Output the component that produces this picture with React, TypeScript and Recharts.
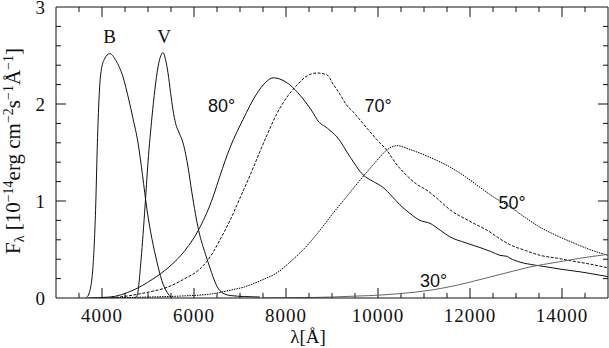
import React from "react"
import {
  Line,
  LineChart,
  ReferenceDot,
  ReferenceLine,
  XAxis,
  YAxis,
} from "recharts"

// wavelengths (Angstrom) and fluxes (1e-14 erg cm^-2 s^-1 A^-1)
const bWave = [3650, 3720, 3800, 3860, 3900, 3930, 3970, 4050, 4170, 4300, 4456, 4580, 4674, 4783, 4880, 4978, 5090, 5196, 5300, 5413, 5520]
const bFlux = [0, 0.05, 0.3, 0.9, 1.6, 2.0, 2.3, 2.46, 2.52, 2.45, 2.28, 2.05, 1.85, 1.6, 1.27, 0.91, 0.6, 0.37, 0.18, 0.06, 0]

const vWave = [4700, 4760, 4850, 4935, 5000, 5087, 5150, 5217, 5280, 5326, 5380, 5435, 5490, 5543, 5600, 5680, 5761, 5820, 5870, 5950, 6030, 6100, 6250, 6348, 6413, 6500, 6630, 6800, 7100, 7430]
const vFlux = [0, 0.02, 0.4, 0.94, 1.4, 1.87, 2.15, 2.38, 2.5, 2.53, 2.46, 2.32, 2.12, 1.94, 1.8, 1.7, 1.6, 1.48, 1.35, 1.1, 0.87, 0.7, 0.45, 0.31, 0.22, 0.12, 0.05, 0.025, 0.015, 0.01]

const wave80 = [3700, 4174, 4674, 5087, 5457, 5804, 6130, 6413, 6565, 6783, 7065, 7370, 7550, 7720, 7850, 8020, 8250, 8457, 8600, 8674, 8900, 9109, 9400, 9674, 9900, 10109, 10300, 10478, 10700, 10913, 11130, 11350, 11565, 11900, 12217, 12450, 12652, 12800, 12870, 13087, 13400, 13674, 14000, 14391, 15000]
const flux80 = [0, 0.01, 0.08, 0.19, 0.32, 0.49, 0.73, 1.04, 1.26, 1.55, 1.84, 2.11, 2.22, 2.27, 2.26, 2.22, 2.12, 2.0, 1.9, 1.84, 1.75, 1.66, 1.45, 1.27, 1.2, 1.14, 1.05, 0.96, 0.87, 0.8, 0.77, 0.7, 0.63, 0.57, 0.52, 0.48, 0.44, 0.43, 0.41, 0.37, 0.34, 0.32, 0.295, 0.27, 0.22]

const wave70 = [4200, 4674, 5000, 5413, 5800, 6130, 6283, 6413, 6565, 6783, 7000, 7250, 7478, 7587, 7800, 8020, 8250, 8457, 8674, 8891, 9030, 9174, 9300, 9457, 9761, 10000, 10196, 10400, 10630, 10850, 11065, 11300, 11565, 12000, 12435, 12650, 12870, 13200, 13522, 13900, 14239, 14600, 15000]
const flux70 = [0, 0.03, 0.06, 0.11, 0.2, 0.3, 0.38, 0.47, 0.6, 0.8, 1.03, 1.3, 1.56, 1.68, 1.9, 2.07, 2.2, 2.29, 2.32, 2.3, 2.2, 2.1, 2.0, 1.92, 1.75, 1.62, 1.52, 1.38, 1.26, 1.17, 1.11, 1.02, 0.91, 0.79, 0.68, 0.61, 0.55, 0.49, 0.44, 0.41, 0.38, 0.35, 0.31]

const wave50 = [4000, 5000, 5700, 6348, 6783, 7065, 7500, 7804, 8087, 8457, 8740, 9000, 9326, 9761, 10000, 10200, 10413, 10700, 11130, 11565, 11900, 12217, 12550, 12870, 13200, 13522, 13900, 14239, 14600, 15000]
const flux50 = [0, 0.01, 0.02, 0.04, 0.08, 0.11, 0.19, 0.26, 0.37, 0.54, 0.7, 0.86, 1.05, 1.3, 1.43, 1.53, 1.57, 1.53, 1.45, 1.35, 1.25, 1.14, 1.03, 0.94, 0.83, 0.73, 0.64, 0.57, 0.5, 0.44]

const wave30 = [7500, 8200, 9000, 9543, 10043, 10478, 11130, 11700, 12217, 12800, 13304, 13900, 14391, 15000]
const flux30 = [0, 0.003, 0.01, 0.02, 0.03, 0.045, 0.08, 0.13, 0.19, 0.26, 0.32, 0.37, 0.41, 0.45]

const xMajor = [4000, 6000, 8000, 10000, 12000, 14000]
const xMinor = [3500, 4000, 4500, 5000, 5500, 6000, 6500, 7000, 7500, 8000, 8500, 9000, 9500, 10000, 10500, 11000, 11500, 12000, 12500, 13000, 13500, 14000, 14500]
const yMajor = [0, 1, 2, 3]
const yMinor = [0.2, 0.4, 0.6, 0.8, 1, 1.2, 1.4, 1.6, 1.8, 2, 2.2, 2.4, 2.6, 2.8]

const pts = (w: number[], f: number[]) => w.map((x, i) => ({ x, y: f[i] }))

const X0 = 3000
const X1 = 15000
const Y0 = 0
const Y1 = 3

const serif = "Liberation Serif"
const sans = "Liberation Sans"
const ink = "#111"

function YLabel() {
  return (
    <text
      transform="translate(20,151) rotate(-90)"
      textAnchor="middle"
      fontFamily={serif}
      fontSize={21}
      fill={ink}
    >
      F<tspan dy={4} fontSize={14}>λ</tspan>
      <tspan dy={-4}> [10</tspan>
      <tspan dy={-7} fontSize={14}>−14</tspan>
      <tspan dy={7}>erg cm</tspan>
      <tspan dy={-7} fontSize={14}>−2</tspan>
      <tspan dy={7}>s</tspan>
      <tspan dy={-7} fontSize={14}>−1</tspan>
      <tspan dy={7}>Å</tspan>
      <tspan dy={-7} fontSize={14}>−1</tspan>
      <tspan dy={7}>]</tspan>
    </text>
  )
}

function XLabel() {
  return (
    <text x={308} y={343} textAnchor="middle" fontFamily={serif} fontSize={19} fill={ink}>
      λ[Å]
    </text>
  )
}

const tag = (value: string, font: string, size: number) => ({
  value,
  position: "center" as const,
  fill: ink,
  fontFamily: font,
  fontSize: size,
})

// inward tick lengths, in data units (about 10px major, 5px minor)
const xTickLen = (v: number) => (xMajor.includes(v) ? 0.103 : 0.052)
const yTickLen = (v: number) => (yMajor.includes(v) ? 217 : 109)

export default function App() {
  const frame = { stroke: ink, strokeWidth: 1 }
  const seg = { xAxisId: "x", yAxisId: "y", stroke: ink, strokeWidth: 1 }
  return (
    <div style={{ position: "absolute", left: 0, top: 0, background: "#fff" }}>
      <LineChart width={609} height={348} margin={{ top: 7, right: 1, bottom: 0, left: 0 }}>
        <XAxis
          xAxisId="x"
          dataKey="x"
          type="number"
          domain={[X0, X1]}
          allowDataOverflow
          ticks={xMajor}
          interval={0}
          height={50}
          tickLine={false}
          tickSize={0}
          tickMargin={11}
          axisLine={frame}
          tick={{ fill: ink, fontSize: 19, fontFamily: serif, letterSpacing: 1 }}
          label={<XLabel />}
        />
        <YAxis
          yAxisId="y"
          type="number"
          domain={[Y0, Y1]}
          allowDataOverflow
          ticks={yMajor}
          interval={0}
          width={56}
          tickLine={false}
          tickSize={0}
          tickMargin={11}
          axisLine={frame}
          tick={{ fill: ink, fontSize: 19, fontFamily: serif }}
          label={<YLabel />}
        />

        {/* top and right sides of the box */}
        <ReferenceLine xAxisId="x" yAxisId="y" y={Y1} stroke={ink} strokeWidth={1} />
        <ReferenceLine xAxisId="x" yAxisId="y" x={X1} stroke={ink} strokeWidth={1} />

        {xMinor.map((v) => (
          <ReferenceLine key={"b" + v} {...seg} segment={[{ x: v, y: Y0 }, { x: v, y: Y0 + xTickLen(v) }]} />
        ))}
        {xMinor.map((v) => (
          <ReferenceLine key={"t" + v} {...seg} segment={[{ x: v, y: Y1 }, { x: v, y: Y1 - xTickLen(v) }]} />
        ))}
        {yMinor.map((v) => (
          <ReferenceLine key={"l" + v} {...seg} segment={[{ x: X0, y: v }, { x: X0 + yTickLen(v), y: v }]} />
        ))}
        {yMinor.map((v) => (
          <ReferenceLine key={"r" + v} {...seg} segment={[{ x: X1, y: v }, { x: X1 - yTickLen(v), y: v }]} />
        ))}

        <Line xAxisId="x" yAxisId="y" data={pts(bWave, bFlux)} dataKey="y" type="monotone" dot={false} stroke={ink} strokeWidth={1} isAnimationActive={false} />
        <Line xAxisId="x" yAxisId="y" data={pts(vWave, vFlux)} dataKey="y" type="monotone" dot={false} stroke={ink} strokeWidth={1} isAnimationActive={false} />
        <Line xAxisId="x" yAxisId="y" data={pts(wave80, flux80)} dataKey="y" type="monotone" dot={false} stroke={ink} strokeWidth={1} isAnimationActive={false} />
        <Line xAxisId="x" yAxisId="y" data={pts(wave70, flux70)} dataKey="y" type="monotone" dot={false} stroke={ink} strokeWidth={1} strokeDasharray="3 1.5" isAnimationActive={false} />
        <Line xAxisId="x" yAxisId="y" data={pts(wave50, flux50)} dataKey="y" type="monotone" dot={false} stroke="#000" strokeWidth={1} strokeDasharray="1.5 1" isAnimationActive={false} />
        <Line xAxisId="x" yAxisId="y" data={pts(wave30, flux30)} dataKey="y" type="monotone" dot={false} stroke="#666" strokeWidth={1} isAnimationActive={false} />

        <ReferenceDot xAxisId="x" yAxisId="y" x={4163} y={2.698} r={0} stroke="none" fill="none" label={tag("B", serif, 19)} />
        <ReferenceDot xAxisId="x" yAxisId="y" x={5348} y={2.698} r={0} stroke="none" fill="none" label={tag("V", serif, 19)} />
        <ReferenceDot xAxisId="x" yAxisId="y" x={6598} y={1.983} r={0} stroke="none" fill="none" label={tag("80°", sans, 18)} />
        <ReferenceDot xAxisId="x" yAxisId="y" x={10004} y={1.983} r={0} stroke="none" fill="none" label={tag("70°", sans, 18)} />
        <ReferenceDot xAxisId="x" yAxisId="y" x={12913} y={0.983} r={0} stroke="none" fill="none" label={tag("50°", sans, 18)} />
        <ReferenceDot xAxisId="x" yAxisId="y" x={11207} y={0.179} r={0} stroke="none" fill="none" label={tag("30°", sans, 18)} />
      </LineChart>
    </div>
  )
}
